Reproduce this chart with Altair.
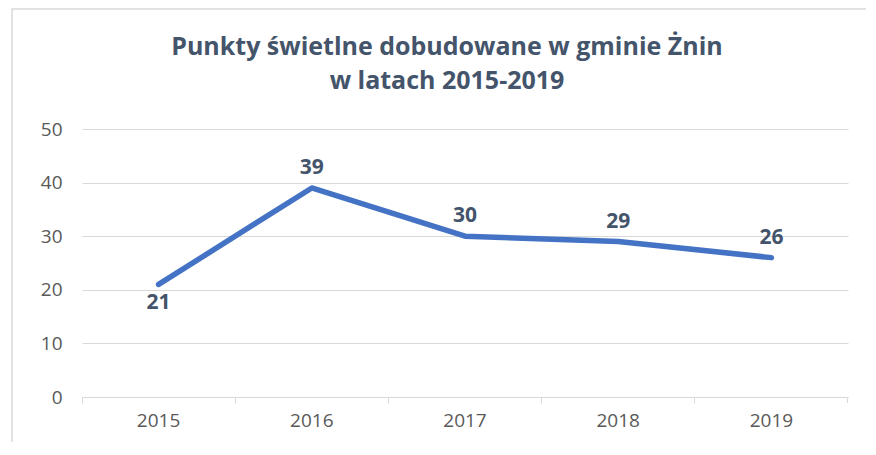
import altair as alt
import pandas as pd

years = ["2015", "2016", "2017", "2018", "2019"]
values = [21, 39, 30, 29, 26]
label_side = ["below", "above", "above", "above", "above"]
title_lines = ["Punkty świetlne dobudowane w gminie Żnin", "w latach 2015-2019"]
y_ticks = [0, 10, 20, 30, 40, 50]

W, H = 766, 268
FONT = "Open Sans"
TXT = "#44546A"
GRID = "#D9D9D9"

df = pd.DataFrame({"year": years, "value": values, "side": label_side})

x = alt.X("year:N", sort=years, title=None, bandPosition=0.5,
          scale=alt.Scale(type="band", paddingInner=0, paddingOuter=0),
          axis=alt.Axis(labelAngle=0, labelFont=FONT, labelFontSize=19, labelColor="#595959",
                        labelPadding=8, domainColor=GRID, tickColor=GRID, tickSize=6,
                        bandPosition=0, grid=False))
y = alt.Y("value:Q", title=None,
          scale=alt.Scale(domain=[0, 50]),
          axis=alt.Axis(values=y_ticks, labelFont=FONT, labelFontSize=19, labelColor="#595959",
                        labelPadding=20, domain=False, ticks=False, gridColor=GRID, gridWidth=1))

base = alt.Chart(df)
one = pd.DataFrame({"k": [0]})

frame = alt.Chart(one).mark_rect(
    fillOpacity=0, stroke=GRID, strokeWidth=1.5
).encode(x=alt.value(-70), x2=alt.value(W + 100), y=alt.value(-120), y2=alt.value(H + 100))

title_kw = dict(font=FONT, fontSize=25, fontWeight="bold", color=TXT, align="center",
                baseline="alphabetic")
title1 = alt.Chart(one).mark_text(text=title_lines[0], **title_kw).encode(
    x=alt.value(365), y=alt.value(-74))
title2 = alt.Chart(one).mark_text(text=title_lines[1], **title_kw).encode(
    x=alt.value(365), y=alt.value(-40))

line = base.mark_line(color="#4472C4", strokeWidth=5.5, strokeCap="round", strokeJoin="round").encode(
    x=x, y=y)

end_tick = alt.Chart(one).mark_rule(color=GRID, strokeWidth=1).encode(
    x=alt.value(W - 0.5), y=alt.value(H), y2=alt.value(H + 6))

lbl_kw = dict(font=FONT, fontSize=21, fontWeight="bold", color=TXT, baseline="middle")
above = base.transform_filter("datum.side == 'above'").mark_text(dy=-20, **lbl_kw).encode(
    x=x, y=y, text="value:Q")
below = base.transform_filter("datum.side == 'below'").mark_text(dy=19, **lbl_kw).encode(
    x=x, y=y, text="value:Q")

chart = alt.layer(frame, title1, title2, line, end_tick, above, below).properties(
    width=W, height=H,
    background="white",
    autosize=alt.AutoSizeParams(type="none"),
    padding={"left": 74, "top": 121, "right": 18, "bottom": 45},
).configure_view(stroke=None, strokeWidth=0)

chart.save("out.html", embed_options={"renderer": "svg", "actions": False})
